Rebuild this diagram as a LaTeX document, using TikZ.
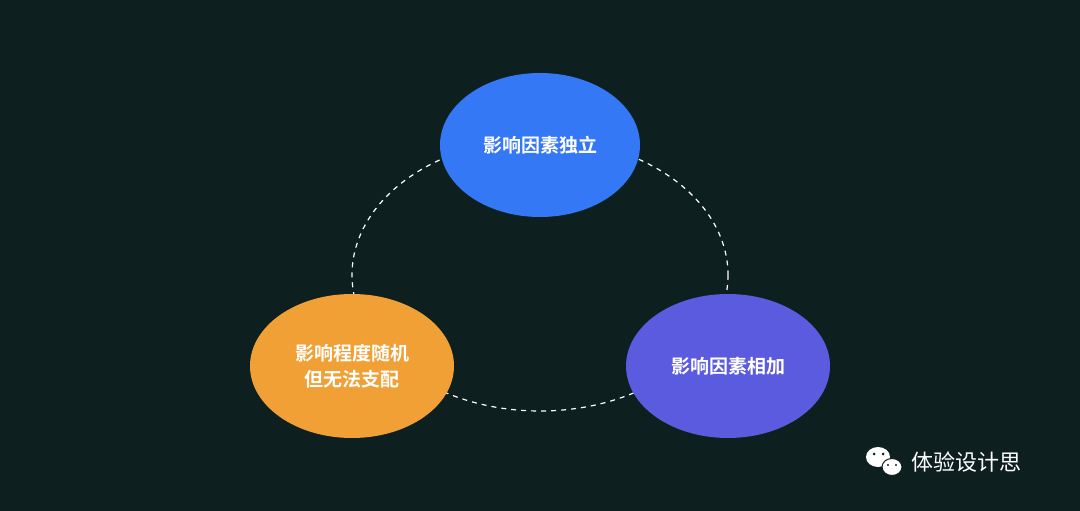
\documentclass[tikz,border=0pt]{standalone}
\usepackage{fontspec}
\newfontfamily\cjk{Noto Sans CJK SC}
\newfontfamily\cjkb{Noto Sans CJK SC Bold}
\begin{document}
\begin{tikzpicture}[x=1pt,y=-1pt,
  bub/.style={ellipse,minimum width=#1,text=white,font=\cjkb\fontsize{19}{26}\selectfont,align=center},
]
\usetikzlibrary{shapes.geometric}
\definecolor{bg}{HTML}{0E1F1F}
\definecolor{cb}{HTML}{3478F6}
\definecolor{cp}{HTML}{5B5BDF}
\definecolor{co}{HTML}{F0A035}
\fill[bg] (0,0) rectangle (1080,511);
\useasboundingbox (0,0) rectangle (1080,511);
\draw[white,dashed,line width=1.2pt,dash pattern=on 5pt off 5pt] (540,275) ellipse[x radius=188,y radius=136];
\fill[cb] (540,145) ellipse[x radius=100,y radius=72];
\fill[cp] (728,366) ellipse[x radius=102,y radius=72];
\fill[co] (352,366) ellipse[x radius=102,y radius=72];
\node[bub=200pt] (t) at (540,145) {影响因素独立};
\node[bub=200pt] (r) at (728,366) {影响因素相加};
\node[bub=200pt] (l) at (352,366) {影响程度随机\\但无法支配};
% watermark
\fill[white] (878,457) ellipse[x radius=12,y radius=10];
\fill[white] (892,467) ellipse[x radius=10,y radius=8.5];
\draw[bg,line width=1pt] (892,467) ellipse[x radius=10,y radius=8.5];
\fill[bg] (874,454) circle (1.5) (883,454) circle (1.5) (888,465) circle (1.2) (896,465) circle (1.2);
\node[text=white,font=\cjk\fontsize{22}{26}\selectfont,anchor=west] (w) at (908,462) {体验设计思};
\end{tikzpicture}
\end{document}
